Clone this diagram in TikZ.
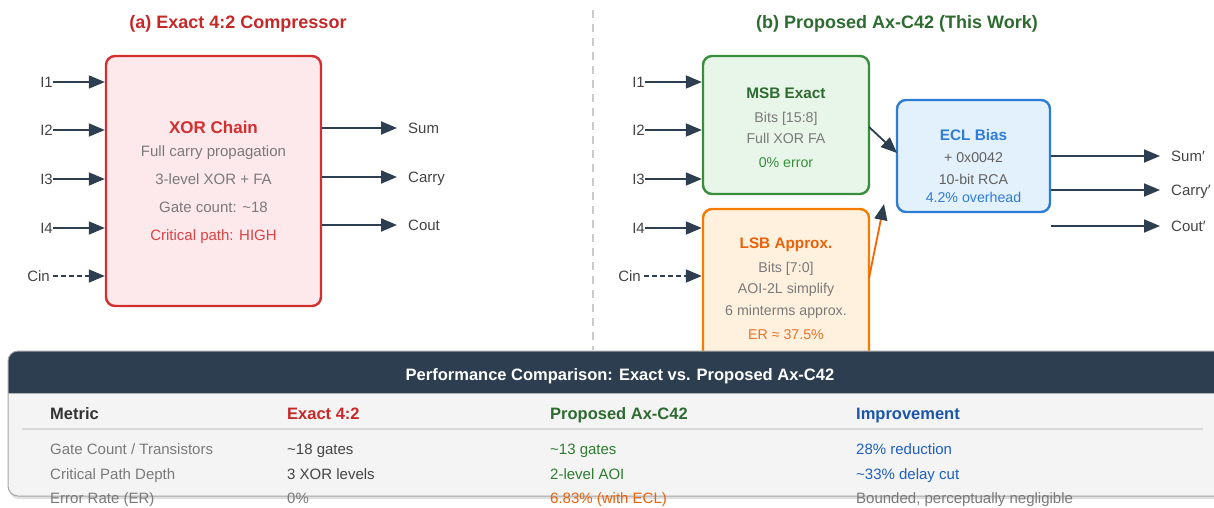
\documentclass[tikz,border=0pt]{standalone}
\usepackage{fontspec}
\setmainfont{Liberation Sans}
\usetikzlibrary{arrows.meta}
\definecolor{navy}{HTML}{2C3E50}
\definecolor{titred}{HTML}{C62828}
\definecolor{titgreen}{HTML}{2E6B30}
\definecolor{boxred}{HTML}{D32F2F}
\definecolor{fillred}{HTML}{FDE8EB}
\definecolor{boxgreen}{HTML}{388E3C}
\definecolor{fillgreen}{HTML}{E8F5E9}
\definecolor{boxorange}{HTML}{F57C00}
\definecolor{fillorange}{HTML}{FFF1DE}
\definecolor{boxblue}{HTML}{2F7BD8}
\definecolor{fillblue}{HTML}{E3F1FD}
\definecolor{txtgray}{HTML}{7A7A7A}
\definecolor{txtdark}{HTML}{444444}
\definecolor{txthead}{HTML}{333333}
\definecolor{txtblue}{HTML}{1E5FBF}
\definecolor{txtorange}{HTML}{E8620C}
\definecolor{txtgreen}{HTML}{2E7D32}
\definecolor{panelfill}{HTML}{F4F4F4}
\begin{document}
\begin{tikzpicture}[x=1pt,y=-1pt,
  font=\fontsize{14}{17}\selectfont,
  arr/.style={draw=navy, line width=1.8pt, -{Triangle[length=16pt,width=13pt,color=navy]}},
  darr/.style={arr, dash pattern=on 4.5pt off 3.5pt},
  blk/.style={rounded corners=9pt, line width=2.4pt, inner sep=0pt},
  fs/.style={font=\fontsize{#1}{#1}\selectfont, inner sep=0pt, text height=0.72*#1 pt, text depth=0pt},
  fb/.style={font=\fontsize{#1}{#1}\selectfont\bfseries, inner sep=0pt, text height=0.72*#1 pt, text depth=0pt},
  inlbl/.style={fs=15, text=txtdark, anchor=east},
  outlbl/.style={fs=15, text=txtdark, anchor=west},
  ttl/.style={fb=18},
  btl/.style={fb=17},
  stl/.style={fs=15, text=txtgray},
  bt/.style={fb=15.3},
  st/.style={fs=14.2, text=txtgray},
  th/.style={fb=16.5, anchor=west},
  td/.style={fs=15, anchor=west}
]
\useasboundingbox (0,0) rectangle (1214,508);

% titles and divider
\node[ttl, text=titred] (ta) at (238,22) {(a) Exact 4:2 Compressor};
\node[ttl, text=titgreen] (tb) at (897,22) {(b) Proposed Ax-C42 (This Work)};
\coordinate (dv1) at (593,10);
\coordinate (dv2) at (593,350);
\draw[draw=black!20, line width=1.5pt, dash pattern=on 8pt off 6pt] (dv1) -- (dv2);

% ---------- left panel ----------
\node[blk, draw=boxred, fill=fillred, minimum width=215pt, minimum height=250pt] (xor) at (213.5,181) {};
\node[btl, text=boxred] (x1) at (213.5,127) {XOR Chain};
\node[stl] (x2) at (213.5,151) {Full carry propagation};
\node[stl] (x3) at (213.5,179) {3-level XOR + FA};
\node[stl] (x4) at (213.5,207) {Gate count: \textasciitilde18};
\node[stl, text=boxred!90] (x5) at (213.5,235) {Critical path: HIGH};

\node[inlbl] (a1) at (53,82) {I1};
\node[inlbl] (a2) at (53,130) {I2};
\node[inlbl] (a3) at (53,179) {I3};
\node[inlbl] (a4) at (53,228) {I4};
\node[inlbl] (a5) at (50,276) {Cin};
\draw[arr] (a1.east) -- (a1.east -| xor.west);
\draw[arr] (a2.east) -- (a2.east -| xor.west);
\draw[arr] (a3.east) -- (a3.east -| xor.west);
\draw[arr] (a4.east) -- (a4.east -| xor.west);
\draw[darr] ([xshift=3pt]a5.east) -- (a5.east -| xor.west);

\node[outlbl] (o1) at (408,128) {Sum};
\node[outlbl] (o2) at (408,177) {Carry};
\node[outlbl] (o3) at (408,225) {Cout};
\draw[arr] (o1.west -| xor.east) -- ([xshift=-11pt]o1.west);
\draw[arr] (o2.west -| xor.east) -- ([xshift=-11pt]o2.west);
\draw[arr] (o3.west -| xor.east) -- ([xshift=-11pt]o3.west);

% ---------- right panel ----------
\node[blk, draw=boxgreen, fill=fillgreen, minimum width=166pt, minimum height=138pt] (msb) at (786,125) {};
\node[bt, text=titgreen] (m1) at (786,93) {MSB Exact};
\node[st] (m2) at (786,117) {Bits [15:8]};
\node[st] (m3) at (786,138) {Full XOR FA};
\node[st, text=boxgreen] (m4) at (786,162) {0\% error};

\node[blk, draw=boxorange, fill=fillorange, minimum width=166pt, minimum height=160pt] (lsb) at (786,289) {};
\node[bt, text=txtorange] (l1) at (786,243) {LSB Approx.};
\node[st] (l2) at (786,267) {Bits [7:0]};
\node[st] (l3) at (786,288) {AOI-2L simplify};
\node[st] (l4) at (786,310) {6 minterms approx.};
\node[st, text=txtorange!90] (l5) at (786,334) {ER ≈ 37.5\%};

\node[blk, draw=boxblue, fill=fillblue, minimum width=153pt, minimum height=112pt] (ecl) at (973.5,156) {};
\node[bt, text=boxblue] (e1) at (973.5,135) {ECL Bias};
\node[st, text=txtdark!85] (e2) at (973.5,157) {+ 0x0042};
\node[st, text=txtdark!85] (e3) at (973.5,179) {10-bit RCA};
\node[st, text=boxblue] (e4) at (973.5,197) {4.2\% overhead};

\node[inlbl] (b1) at (645,82) {I1};
\node[inlbl] (b2) at (645,130) {I2};
\node[inlbl] (b3) at (645,179) {I3};
\node[inlbl] (b4) at (645,228) {I4};
\node[inlbl] (b5) at (641,276) {Cin};
\draw[arr] (b1.east) -- (b1.east -| msb.west);
\draw[arr] (b2.east) -- (b2.east -| msb.west);
\draw[arr] (b3.east) -- (b3.east -| msb.west);
\draw[arr] (b4.east) -- (b4.east -| lsb.west);
\draw[darr] ([xshift=3pt]b5.east) -- (b5.east -| lsb.west);

\coordinate (mo) at (869,127);
\coordinate (ei) at (897,153);
\draw[arr] (mo) -- (ei);
\coordinate (lo) at (869,278);
\coordinate (li) at (884,204);
\draw[arr, draw=boxorange!80!red] (lo) -- (li);

\node[outlbl] (p1) at (1171,156) {Sum′};
\node[outlbl] (p2) at (1171,190) {Carry′};
\node[outlbl] (p3) at (1171,226) {Cout′};
\draw[arr] (p1.west -| ecl.east) -- ([xshift=-11pt]p1.west);
\draw[arr] (p2.west -| ecl.east) -- ([xshift=-11pt]p2.west);
\draw[arr] (p3.west -| ecl.east) -- ([xshift=-11pt]p3.west);

% ---------- table panel ----------
\fill[black!12, rounded corners=10pt] (9,354) rectangle (1240,499);
\begin{scope}
\clip[rounded corners=10pt] (8,351) rectangle (1240,496);
\fill[panelfill] (8,351) rectangle (1240,496);
\fill[navy] (8,351) rectangle (1240,393);
\draw[draw=black!30, line width=1pt] (8,393) -- (1240,393);
\end{scope}
\draw[draw=black!35, line width=1pt, rounded corners=10pt] (8,351) rectangle (1240,496);
\node[fb=16.5, text=white] (hd) at (620,375) {Performance Comparison: Exact vs. Proposed Ax-C42};

\node[th, text=txthead] (h1) at (50,414) {Metric};
\node[th, text=titred] (h2) at (287,414) {Exact 4:2};
\node[th, text=titgreen] (h3) at (550,414) {Proposed Ax-C42};
\node[th, text=txtblue!90!black] (h4) at (856,414) {Improvement};
\coordinate (hl1) at (22,429);
\coordinate (hl2) at (1203,429);
\draw[draw=black!15, line width=1.6pt] (hl1) -- (hl2);

\node[td, text=txtgray] (r11) at (50,449) {Gate Count / Transistors};
\node[td, text=txtdark] (r12) at (287,449) {\textasciitilde18 gates};
\node[td, text=txtgreen] (r13) at (550,449) {\textasciitilde13 gates};
\node[td, text=txtblue] (r14) at (856,449) {28\% reduction};

\node[td, text=txtgray] (r21) at (50,474) {Critical Path Depth};
\node[td, text=txtdark] (r22) at (287,474) {3 XOR levels};
\node[td, text=txtgreen] (r23) at (550,474) {2-level AOI};
\node[td, text=txtblue] (r24) at (856,474) {\textasciitilde33\% delay cut};

\node[td, text=txtgray] (r31) at (50,498) {Error Rate (ER)};
\node[td, text=txtgray] (r32) at (287,498) {0\%};
\node[td, text=txtorange] (r33) at (550,498) {6.83\% (with ECL)};
\node[td, text=txtgray] (r34) at (856,498) {Bounded, perceptually negligible};
\end{tikzpicture}
\end{document}
